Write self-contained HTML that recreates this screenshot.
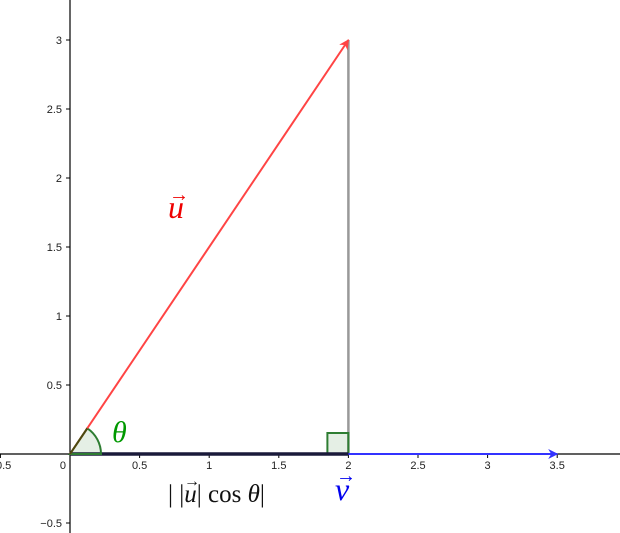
<!DOCTYPE html>
<html><head><meta charset="utf-8"><style>
html,body{margin:0;padding:0;background:#fff;}
svg{display:block;font-family:"Liberation Sans",sans-serif;}
</style></head><body>
<svg id="chart" width="620" height="533" viewBox="0 0 620 533" xmlns="http://www.w3.org/2000/svg">
<defs>
<marker id="ar" markerWidth="10" markerHeight="10" refX="9" refY="5" orient="auto" markerUnits="userSpaceOnUse"><path d="M0,0 L10,5 L0,10 L3,5 Z" fill="#ff4444"/></marker>
<marker id="ab" markerWidth="10" markerHeight="10" refX="9" refY="5" orient="auto" markerUnits="userSpaceOnUse"><path d="M0,0 L10,5 L0,10 L3,5 Z" fill="#3333ff"/></marker>
</defs>
<g id="axes"></g>
<g id="marks"></g>
</svg>
<script>
const xTicks=[-0.5,0.5,1,1.5,2,2.5,3,3.5];
const yTicks=[-0.5,0.5,1,1.5,2,2.5,3];
const vecU=[2,3];
const vecV=[3.5,0];
const proj=[2,0];
const X0=70,Y0=454,SX=139.2,SY=138;
const px=x=>X0+x*SX, py=y=>Y0-y*SY;
const NS="http://www.w3.org/2000/svg";
function mk(tag,attrs,parent,text){const e=document.createElementNS(NS,tag);for(const k in attrs)e.setAttribute(k,attrs[k]);if(text!==undefined)e.textContent=text;parent.appendChild(e);return e;}
const ax=document.getElementById('axes'), mg=document.getElementById('marks');
let e=mk('line',{x1:0,y1:Y0,x2:620,y2:Y0,stroke:'#000','stroke-width':1.2},ax);

e=mk('line',{x1:X0,y1:0,x2:X0,y2:533,stroke:'#000','stroke-width':1.2},ax);

xTicks.forEach(t=>{mk('line',{x1:px(t),y1:Y0,x2:px(t),y2:Y0+4,stroke:'#000'},ax);
 const l=mk('text',{x:px(t),y:Y0+15,'font-size':11,'text-anchor':'middle',fill:'#222'},ax,t<0?'\u2212'+Math.abs(t):String(t));
 });
yTicks.forEach(t=>{mk('line',{x1:X0-4,y1:py(t),x2:X0,y2:py(t),stroke:'#000'},ax);
 const l=mk('text',{x:X0-8,y:py(t)+4,'font-size':11,'text-anchor':'end',fill:'#222'},ax,t<0?'\u2212'+Math.abs(t):String(t));
 });
e=mk('text',{x:X0-4,y:Y0+15,'font-size':11,'text-anchor':'end',fill:'#222'},ax,'0');

e=mk('line',{x1:px(vecU[0]),y1:py(vecU[1]),x2:px(proj[0]),y2:py(0),stroke:'#999','stroke-width':2.5},mg);

const s=21;
e=mk('rect',{x:px(proj[0])-s,y:Y0-s,width:s,height:s,fill:'rgba(0,100,0,0.1)',stroke:'#2e7d32','stroke-width':2},mg);

e=mk('line',{x1:px(0),y1:Y0,x2:px(vecV[0]),y2:py(vecV[1]),stroke:'#3333ff','stroke-width':2,'marker-end':'url(#ab)'},mg);

e=mk('line',{x1:px(0),y1:Y0,x2:px(proj[0]),y2:Y0,stroke:'#1a1a3a','stroke-width':3.5},mg);

const r=31, ang=Math.atan2(vecU[1]*SY,vecU[0]*SX);
e=mk('path',{d:`M${X0},${Y0} L${X0+r},${Y0} A${r},${r} 0 0 0 ${X0+r*Math.cos(ang)},${Y0-r*Math.sin(ang)} Z`,fill:'rgba(0,100,0,0.1)',stroke:'#2e7d32','stroke-width':2},mg);

e=mk('line',{x1:px(0),y1:Y0,x2:px(vecU[0]),y2:py(vecU[1]),stroke:'#ff4444','stroke-width':2,'marker-end':'url(#ar)'},mg);

e=mk('line',{x1:px(0),y1:Y0,x2:X0+r*Math.cos(ang),y2:Y0-r*Math.sin(ang),stroke:'#4a4a10','stroke-width':2},mg);

e=mk('text',{x:168,y:218,'font-size':32,'font-style':'italic','font-family':'Liberation Serif,serif',fill:'#ee0000'},mg,'u');

mk('text',{x:169,y:201,'font-size':20,'font-family':'Liberation Serif,serif',fill:'#ee0000'},mg,'\u2192');
e=mk('text',{x:335,y:500,'font-size':32,'font-style':'italic','font-family':'Liberation Serif,serif',fill:'#0000ee'},mg,'v');

mk('text',{x:336,y:482,'font-size':20,'font-family':'Liberation Serif,serif',fill:'#0000ee'},mg,'\u2192');
e=mk('text',{x:112,y:442,'font-size':30,'font-style':'italic','font-family':'Liberation Serif,serif',fill:'#009900'},mg,'\u03b8');

e=mk('text',{x:168,y:502,'font-size':25,'font-family':'Liberation Serif,serif',fill:'#111'},mg);
e.innerHTML='| |<tspan font-style="italic">u</tspan>| cos <tspan font-style="italic">\u03b8</tspan>|';

mk('text',{x:184,y:486,'font-size':16,'font-family':'Liberation Serif,serif',fill:'#111'},mg,'\u2192');
</script>
</body></html>
